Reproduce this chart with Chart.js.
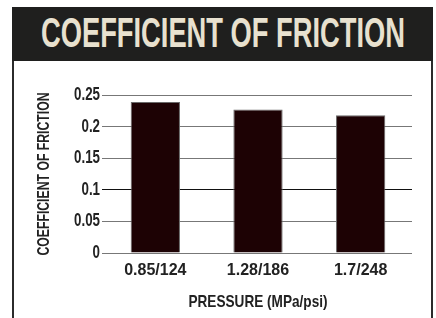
<!DOCTYPE html>
<html>
<head>
<meta charset="utf-8">
<script src="https://cdn.jsdelivr.net/npm/chart.js@4"></script>
<style>
  html, body { margin: 0; padding: 0; background: #fff; }
  body { width: 436px; height: 318px; position: relative; overflow: hidden; }
  .banner {
    position: absolute; left: 12px; top: 7px; width: 421px; height: 54px;
    background: #1f1f1e;
  }
  .banner span {
    position: absolute; left: 50%; top: 50%;
    transform: translate(-50%, -52%) scaleX(0.65);
    white-space: nowrap;
    color: #e8e1cf;
    font: bold 42px 'Liberation Sans', Arial, sans-serif;
  }
  .frame {
    position: absolute; left: 12px; top: 61px; width: 417px; height: 257px;
    border-left: 2px solid #2b2b2b; border-right: 2px solid #2b2b2b;
  }
  #chart { position: absolute; left: 0; top: 0; }
</style>
</head>
<body>
<div class="banner"><span>COEFFICIENT OF FRICTION</span></div>
<div class="frame"></div>
<canvas id="chart" width="436" height="318"></canvas>
<script>
// データ
const categories = ['0.85/124', '1.28/186', '1.7/248'];
const frictionValues = [0.239, 0.227, 0.218];
const yTickValues = [0, 0.05, 0.1, 0.15, 0.2, 0.25];

const xTitle = 'PRESSURE (MPa/psi)';
const yTitle = 'COEFFICIENT OF FRICTION';
const font = "'Liberation Sans', Arial, sans-serif";

// 元の図は細い書体なので、文字を横方向に縮めて描く
function squeezeFor(text) {
  if (text === yTitle) return 0.72;
  if (text === xTitle) return 0.8;
  if (categories.includes(text)) return 1;
  return 0.74;
}

const canvas = document.getElementById('chart');
const ctx = canvas.getContext('2d');
const origFillText = ctx.fillText;
ctx.fillText = function (text, x, y, maxWidth) {
  const s = squeezeFor(String(text));
  if (s === 1) {
    return maxWidth === undefined ? origFillText.call(this, text, x, y) : origFillText.call(this, text, x, y, maxWidth);
  }
  this.save();
  this.translate(x, y);
  this.scale(s, 1);
  origFillText.call(this, text, 0, 0);
  this.restore();
};

new Chart(ctx, {
  type: 'bar',
  data: {
    labels: categories,
    datasets: [{
      data: frictionValues,
      backgroundColor: '#1d0204',
      borderColor: '#6a6a6a',
      borderWidth: 1,
      barPercentage: 0.48,
      categoryPercentage: 1
    }]
  },
  options: {
    responsive: false,
    animation: false,
    layout: {
      padding: { left: 30, right: 24, top: 95, bottom: 2 }
    },
    plugins: {
      legend: { display: false },
      tooltip: { enabled: false }
    },
    scales: {
      x: {
        grid: { display: false, drawTicks: false },
        border: { display: false },
        ticks: {
          padding: 8,
          color: '#222',
          font: { family: font, size: 16, weight: 'bold' }
        },
        title: {
          display: true,
          text: xTitle,
          color: '#222',
          padding: { top: 12, bottom: 3 },
          font: { family: font, size: 17, weight: 'bold' }
        },
        afterFit: function (scale) {
          scale.height = 63;
        }
      },
      y: {
        min: 0,
        max: 0.25,
        afterBuildTicks: function (scale) {
          scale.ticks = yTickValues.map(v => ({ value: v }));
        },
        grid: {
          color: c => (c.tick && c.tick.value === 0.1) ? '#111' : '#777',
          lineWidth: 1,
          tickLength: 2
        },
        border: { display: false },
        ticks: {
          padding: 2,
          color: '#222',
          font: { family: font, size: 18, weight: 'bold' },
          callback: v => String(v)
        },
        title: {
          display: true,
          text: yTitle,
          color: '#222',
          padding: { top: 4, bottom: 4 },
          font: { family: font, size: 17, weight: 'bold' }
        },
        afterFit: function (scale) {
          scale.width = 74;
        }
      }
    }
  }
});
</script>
</body>
</html>
